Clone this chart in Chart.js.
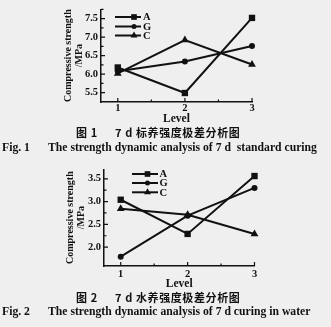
<!DOCTYPE html>
<html>
<head>
<meta charset="utf-8">
<script src="https://cdn.jsdelivr.net/npm/chart.js@4.4.1/dist/chart.umd.min.js"></script>
<style>
  html, body { margin: 0; padding: 0; background: #efefef; }
  #page { position: relative; width: 331px; height: 327px; overflow: hidden; color: #111; }
  canvas { position: absolute; left: 0; }
  .cap { position: absolute; white-space: nowrap; font-weight: bold; line-height: 14px; }
  .zh { font-family: "Noto Sans CJK SC", sans-serif; font-size: 11px; letter-spacing: 0.6px; }
  .en { font-family: "Liberation Serif", serif; font-size: 11.7px; }
</style>
</head>
<body>
<div id="page">
  <canvas id="fig1" width="331" height="127" style="top:0"></canvas>
  <div class="cap zh" style="left:76px; top:125px;">图 1</div>
  <div class="cap zh" style="left:115px; top:125px;">7 d 标养强度极差分析图</div>
  <div class="cap en" style="left:2px; top:141px;">Fig. 1</div>
  <div class="cap en" style="left:48px; top:141px;">The strength dynamic analysis of 7 d&nbsp; standard curing</div>

  <canvas id="fig2" width="331" height="132" style="top:160px"></canvas>
  <div class="cap zh" style="left:76px; top:290px;">图 2</div>
  <div class="cap zh" style="left:115px; top:290px;">7 d 水养强度极差分析图</div>
  <div class="cap en" style="left:2px; top:305px;">Fig. 2</div>
  <div class="cap en" style="left:48px; top:305px;">The strength dynamic analysis of 7 d curing in water</div>
</div>
<script>
const levels = [1, 2, 3];
const seriesNames = ['A', 'G', 'C'];
const pointShapes = ['rect', 'circle', 'triangle'];
const pointSizes = [4.5, 3, 4.5];

// 7 d standard curing
const stdA = [6.18, 5.49, 7.52];
const stdG = [6.08, 6.34, 6.76];
const stdC = [6.02, 6.92, 6.26];
const stdTicks = [5.5, 6.0, 6.5, 7.0, 7.5];

// 7 d curing in water
const waterA = [3.04, 2.29, 3.56];
const waterG = [1.79, 2.69, 3.30];
const waterC = [2.84, 2.71, 2.29];
const waterTicks = [2.0, 2.5, 3.0, 3.5];

const ink = '#111';
const serif = '"Liberation Serif", "Times New Roman", serif';

// inward tick marks on both axes, minor ones halfway between the majors
const innerTicks = {
  id: 'innerTicks',
  afterDraw(chart) {
    const { ctx, scales: { x, y } } = chart;
    ctx.save();
    ctx.strokeStyle = ink;
    ctx.lineWidth = 1.2;
    ctx.beginPath();
    const xv = x.ticks.map(t => t.value);
    xv.forEach((v, i) => {
      const px = x.getPixelForValue(v);
      ctx.moveTo(px, x.top);
      ctx.lineTo(px, x.top - 4);
      if (i < xv.length - 1) {
        const pm = x.getPixelForValue((v + xv[i + 1]) / 2);
        ctx.moveTo(pm, x.top);
        ctx.lineTo(pm, x.top - 2.5);
      }
    });
    const yv = y.ticks.map(t => t.value);
    yv.forEach((v, i) => {
      const py = y.getPixelForValue(v);
      ctx.moveTo(y.right, py);
      ctx.lineTo(y.right + 4, py);
      const step = yv.length > 1 ? yv[1] - yv[0] : 0.5;
      const pm = y.getPixelForValue(v + step / 2);
      if (pm >= y.top) {
        ctx.moveTo(y.right, pm);
        ctx.lineTo(y.right + 2.5, pm);
      }
    });
    ctx.stroke();
    ctx.restore();
  }
};

// small key inside the plot: line, marker, series name
const seriesKey = {
  id: 'seriesKey',
  afterDraw(chart, args, opts) {
    const ctx = chart.ctx;
    ctx.save();
    chart.data.datasets.forEach((ds, i) => {
      const y = opts.rows[i];
      ctx.strokeStyle = ds.borderColor;
      ctx.lineWidth = 2;
      ctx.beginPath();
      ctx.moveTo(opts.lineFrom, y);
      ctx.lineTo(opts.lineTo, y);
      ctx.stroke();
      ctx.fillStyle = ds.pointBackgroundColor;
      Chart.helpers.drawPoint(ctx, { pointStyle: ds.pointStyle, radius: ds.pointRadius - 0.5, rotation: 0, borderWidth: 0 }, opts.markAt, y);
      ctx.font = 'bold 10.5px ' + serif;
      ctx.textBaseline = 'middle';
      ctx.fillText(ds.label, opts.textAt, y + 0.5);
    });
    ctx.restore();
  }
};

function makeDatasets(series) {
  return series.map((vals, i) => ({
    label: seriesNames[i],
    data: levels.map((lv, j) => ({ x: lv, y: vals[j] })),
    borderColor: ink,
    borderWidth: 2,
    pointStyle: pointShapes[i],
    pointRadius: pointSizes[i],
    pointBackgroundColor: ink,
    pointBorderColor: ink,
    pointBorderWidth: 0,
    tension: 0,
    clip: false
  }));
}

function makeChart(id, series, yTicks, yMin, yMax, g) {
  return new Chart(document.getElementById(id), {
    type: 'line',
    data: { datasets: makeDatasets(series) },
    options: {
      responsive: false,
      animation: false,
      layout: { padding: { left: 0, top: g.top, right: g.right, bottom: 0 } },
      plugins: {
        legend: { display: false },
        tooltip: { enabled: false },
        seriesKey: g.key
      },
      scales: {
        x: {
          type: 'linear',
          min: 0.75,
          max: 3,
          afterBuildTicks: s => { s.ticks = levels.map(v => ({ value: v })); },
          afterFit: s => { s.height = g.xH; },
          grid: { display: false, drawTicks: false },
          border: { color: ink, width: 1.5 },
          ticks: { color: ink, padding: g.xPad, autoSkip: false, maxRotation: 0,
                   font: { family: serif, size: 10.5, weight: 'bold' },
                   callback: v => String(v) },
          title: { display: true, text: 'Level', color: ink,
                   font: { family: serif, size: 11.5, weight: 'bold' },
                   padding: { top: 0, bottom: g.levelPad } }
        },
        y: {
          min: yMin,
          max: yMax,
          afterBuildTicks: s => { s.ticks = yTicks.map(v => ({ value: v })); },
          afterFit: s => { s.width = g.yW; },
          grid: { display: false, drawTicks: false },
          border: { color: ink, width: 1.5 },
          ticks: { color: ink, padding: 3,
                   font: { family: serif, size: 10.5, weight: 'bold' },
                   callback: v => v.toFixed(1) },
          title: { display: true, text: ['Compressive strength', '/MPa'], color: ink,
                   font: { family: serif, size: 10, weight: 'bold', lineHeight: 1.1 },
                   padding: { top: g.titlePad, bottom: 0 } }
        }
      }
    },
    plugins: [innerTicks, seriesKey]
  });
}

makeChart('fig1', [stdA, stdG, stdC], stdTicks, 5.247, 7.753, {
  top: 6, right: 79, xH: 25, yW: 101, xPad: 0, levelPad: 1, titlePad: 62.5,
  key: { rows: [17, 26.5, 35.5], lineFrom: 115, lineTo: 141, markAt: 134, textAt: 143 }
});

makeChart('fig2', [waterA, waterG, waterC], waterTicks, 1.586, 3.708, {
  top: 7, right: 76.5, xH: 26, yW: 104, xPad: 1.5, levelPad: 1, titlePad: 64.5,
  key: { rows: [14, 23, 32.3], lineFrom: 132, lineTo: 158, markAt: 147.5, textAt: 159.5 }
});
</script>
</body>
</html>
